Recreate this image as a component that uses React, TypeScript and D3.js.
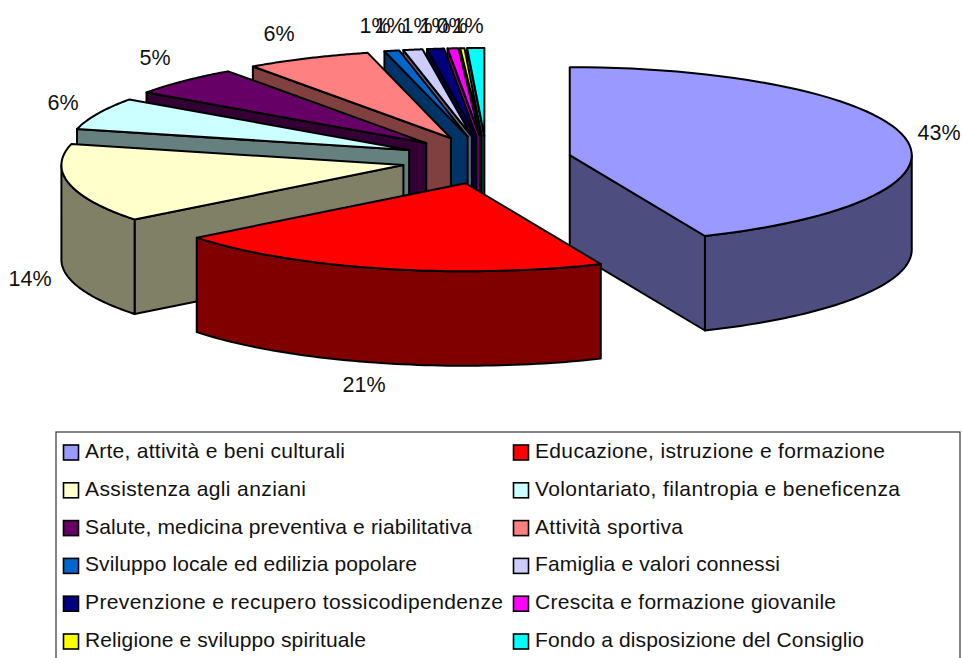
import React from "react";
import * as d3 from "d3";

const categories = [
  "Arte, attività e beni culturali",
  "Educazione, istruzione e formazione",
  "Assistenza agli anziani",
  "Volontariato, filantropia e beneficenza",
  "Salute, medicina preventiva e riabilitativa",
  "Attività sportiva",
  "Sviluppo locale ed edilizia popolare",
  "Famiglia e valori connessi",
  "Prevenzione e recupero tossicodipendenze",
  "Crescita e formazione giovanile",
  "Religione e sviluppo spirituale",
  "Fondo a disposizione del Consiglio",
];
const values = [43.4, 20.8, 14.4, 5.9, 5.4, 5.9, 0.7, 0.9, 0.8, 0.5, 0.2, 0.8];
const percentLabels = ["43%", "21%", "14%", "6%", "5%", "6%", "1%", "1%", "1%", "1%", "0%", "1%"];
const fills = ["#9999FF", "#FF0000", "#FFFFCC", "#CCFFFF", "#660066", "#FF8080", "#0066CC", "#CCCCFF", "#000080", "#FF00FF", "#FFFF00", "#00FFFF"];

const FONT = "'Liberation Sans', Arial, sans-serif";
const CX = 486.5, CY = 160, RX = 342, RY = 88, EX = 85, EY = 24, DEPTH = 94.5;
const labelPos: [number, number][] = [
  [939, 134], [364, 386], [30, 280], [63, 104], [155, 59], [279, 35],
  [375, 27], [390, 27], [417, 27], [435, 27], [452, 27], [468, 27],
];
const legendTextEnd = [345, 885, 306, 900, 472, 683, 417, 780, 503, 836, 366, 864];

const arcs = d3.pie<number>().sort(null).value((d) => d)(values);
const line = d3.line<[number, number]>();
const darker = (c: string) => {
  const r = d3.rgb(c);
  return d3.rgb(r.r / 2, r.g / 2, r.b / 2).formatHex();
};

function slicePaths(a: d3.PieArcDatum<number>) {
  const mid = (a.startAngle + a.endAngle) / 2;
  const ax = CX + EX * Math.sin(mid);
  const ay = CY - EY * Math.cos(mid);
  const pt = (t: number): [number, number] => [ax + RX * Math.sin(t), ay - RY * Math.cos(t)];
  const rim = (t0: number, t1: number) =>
    d3.range(0, 61).map((i) => pt(t0 + ((t1 - t0) * i) / 60));
  const top = line([[ax, ay], ...rim(a.startAngle, a.endAngle)]) + "Z";
  const down = (p: [number, number]): [number, number] => [p[0], p[1] + DEPTH];
  const walls: string[] = [];
  const radial = (t: number) => {
    const p = pt(t);
    walls.push(line([[ax, ay], p, down(p), [ax, ay + DEPTH]])! + "Z");
  };
  if (a.startAngle >= Math.PI) radial(a.startAngle);
  if (a.endAngle <= Math.PI) radial(a.endAngle);
  const lo = Math.max(a.startAngle, Math.PI / 2);
  const hi = Math.min(a.endAngle, (3 * Math.PI) / 2);
  if (hi > lo) {
    const r = rim(lo, hi);
    walls.push(line([...r, ...r.slice().reverse().map(down)])! + "Z");
  }
  return { top, walls };
}

const drawOrder = [11, 10, 9, 8, 7, 6, 5, 4, 3, 2, 0, 1];
const legendY = d3.scalePoint<number>().domain(d3.range(6)).range([451, 640]);

export default function App() {
  return (
    <svg width={962} height={658} style={{ position: "absolute", left: 0, top: 0 }} fontFamily={FONT}>
      <rect width={962} height={658} fill="#fff" />
      {drawOrder.map((i) => {
        const s = slicePaths(arcs[i]);
        return (
          <g key={i} stroke="#000" strokeWidth={2} strokeLinejoin="round">
            {s.walls.map((w, j) => (
              <path key={j} d={w} fill={darker(fills[i])} />
            ))}
            <path d={s.top} fill={fills[i]} />
          </g>
        );
      })}
      {percentLabels.map((l, i) => (
        <text key={i} x={labelPos[i][0]} y={labelPos[i][1]} fontSize={21.5} textAnchor="middle" dominantBaseline="middle" fill="#111">
          {l}
        </text>
      ))}
      <rect x={56} y={432} width={904} height={240} fill="#fff" stroke="#444" strokeWidth={1.3} />
      {categories.map((c, i) => {
        const col = i % 2;
        const row = Math.floor(i / 2);
        const y = legendY(row)!;
        const sx = col ? 513.5 : 63.5;
        const tx = col ? 535 : 85;
        return (
          <g key={i}>
            <rect x={sx} y={y - 6} width={15} height={15} fill={fills[i]} stroke="#000" strokeWidth={1.6} />
            <text x={tx} y={y + 7} fontSize={21} textLength={legendTextEnd[i] - tx} lengthAdjust="spacing" fill="#111">
              {c}
            </text>
          </g>
        );
      })}
    </svg>
  );
}
